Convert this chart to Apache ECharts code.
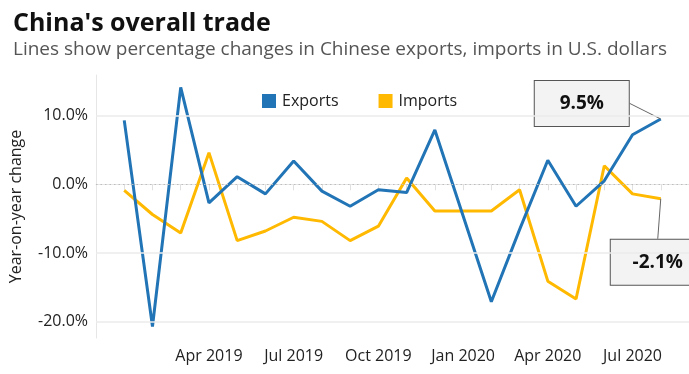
<!DOCTYPE html>
<html><head><meta charset="utf-8">
<script src="https://cdn.jsdelivr.net/npm/echarts@6/dist/echarts.min.js"></script>
<style>html,body{margin:0;padding:0;background:#fff}#c{width:689px;height:374px}</style>
</head><body><div id="c"></div>
<script>
// Months (padding categories at both ends keep the plot edges one month away)
var categories = ['Dec 2018','Jan 2019','Feb 2019','Mar 2019','Apr 2019','May 2019','Jun 2019','Jul 2019','Aug 2019','Sep 2019','Oct 2019','Nov 2019','Dec 2019','Jan 2020','Feb 2020','Mar 2020','Apr 2020','May 2020','Jun 2020','Jul 2020','Aug 2020','Sep 2020'];
var exportsYoY = [null, 9.3, -20.7, 14.1, -2.7, 1.1, -1.4, 3.4, -1.0, -3.2, -0.8, -1.2, 7.9, null, -17.1, -6.6, 3.5, -3.2, 0.5, 7.2, 9.5, null];
var importsYoY = [null, -0.9, -4.4, -7.1, 4.6, -8.2, -6.8, -4.8, -5.4, -8.2, -6.1, 0.9, -3.9, null, -3.9, -0.8, -14.1, -16.7, 2.7, -1.4, -2.1, null];
var tickLabels = ['Apr 2019','Jul 2019','Oct 2019','Jan 2020','Apr 2020','Jul 2020'];
var gridValues = [10, 0, -10, -20];

var FONT = '"Open Sans"';
var chart = echarts.init(document.getElementById('c'));
var last = 20;

function lastLabel(txt, pos) {
  return {
    show: true, formatter: txt, position: pos,
    backgroundColor: '#f3f3f3', borderColor: '#555', borderWidth: 1,
    fontFamily: FONT, fontWeight: 'bold', fontSize: 19, color: '#111',
    width: 70, align: 'center', padding: [13, 12, 13, 12]
  };
}
var expData = exportsYoY.map(function (v, i) { return i === last ? { value: v, label: lastLabel('9.5%', 'top') } : v; });
var impData = importsYoY.map(function (v, i) { return i === last ? { value: v, label: lastLabel('-2.1%', 'bottom') } : v; });

chart.setOption({
  animation: false,
  textStyle: { fontFamily: FONT },
  title: {
    text: "China's overall trade",
    subtext: 'Lines show percentage changes in Chinese exports, imports in U.S. dollars',
    left: 8, top: 6, itemGap: 4,
    textStyle: { fontFamily: FONT, fontWeight: 'bold', fontSize: 25, color: '#111' },
    subtextStyle: { fontFamily: FONT, fontSize: 19, color: '#555' }
  },
  legend: {
    left: 257, top: 88, icon: 'rect', itemWidth: 14, itemHeight: 14, itemGap: 40,
    textStyle: { fontFamily: FONT, fontSize: 16, color: '#222', padding: [0, 0, 0, 1] },
    data: ['Exports', 'Imports']
  },
  grid: { left: 95, right: -5, top: 75, bottom: 36 },
  xAxis: {
    type: 'category', data: categories, boundaryGap: false,
    axisLine: { show: true, lineStyle: { color: '#e6e6e6', width: 1 } },
    axisTick: { show: true, length: 6, lineStyle: { color: '#e0e0e0' },
      interval: function (i) { return i >= 1 && i <= 20; } },
    axisLabel: { interval: function (i, v) { return tickLabels.indexOf(v) >= 0; },
      fontFamily: FONT, fontSize: 16, color: '#222', margin: 10 },
    splitLine: { show: false }
  },
  yAxis: {
    type: 'value', min: -22.37, max: 15.9,
    name: 'Year-on-year change', nameLocation: 'middle', nameGap: 72, nameRotate: 90,
    nameTextStyle: { fontFamily: FONT, fontSize: 16, color: '#222' },
    axisLine: { show: true, lineStyle: { color: '#e6e6e6' } },
    axisTick: { show: false }, axisLabel: { show: false }, splitLine: { show: false }
  },
  series: [
    {
      name: 'grid', type: 'line', data: [], z: 1, silent: true,
      markLine: {
        silent: true, symbol: 'none', animation: false,
        data: gridValues.map(function (v) {
          return {
            yAxis: v,
            lineStyle: v === 0 ? { color: '#bdbdbd', type: [1.5, 3], width: 1 } : { color: '#ebebeb', type: 'solid', width: 1.5 },
            label: { show: true, position: 'start', distance: 8, formatter: v.toFixed(1) + '%',
              fontFamily: FONT, fontSize: 16, color: '#222' }
          };
        })
      }
    },
    {
      name: 'Exports', type: 'line', data: expData, connectNulls: true, z: 3,
      symbol: 'circle', symbolSize: 0.1, showSymbol: true,
      lineStyle: { width: 3, color: '#2174b5' }, itemStyle: { color: '#2174b5' },
      labelLayout: function (p) { return p.dataIndex === last ? { dx: -79, dy: 12 } : {}; },
      labelLine: { show: true, lineStyle: { color: '#666', width: 1 } }
    },
    {
      name: 'Imports', type: 'line', data: impData, connectNulls: true, z: 2,
      symbol: 'circle', symbolSize: 0.1, showSymbol: true,
      lineStyle: { width: 3, color: '#ffb901' }, itemStyle: { color: '#ffb901' },
      labelLayout: function (p) { return p.dataIndex === last ? { dx: -3, dy: 36 } : {}; },
      labelLine: { show: true, lineStyle: { color: '#666', width: 1 } }
    }
  ]
});
</script></body></html>
